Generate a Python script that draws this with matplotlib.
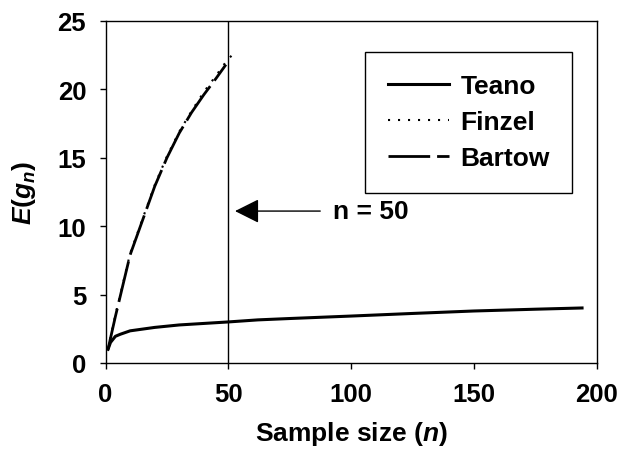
import matplotlib.pyplot as plt

plt.rcParams['font.family'] = ['Liberation Sans', 'DejaVu Sans']
plt.rcParams['font.weight'] = 'bold'
plt.rcParams['mathtext.fontset'] = 'custom'
plt.rcParams['mathtext.it'] = 'Liberation Sans:italic:bold'
plt.rcParams['mathtext.rm'] = 'Liberation Sans:bold'

# values
teano_n = [1, 2, 4, 6, 10, 20, 30, 50, 62, 75, 100, 125, 150, 175, 194]
teano_e = [1.0, 1.5, 1.95, 2.1, 2.35, 2.6, 2.78, 3.0, 3.15, 3.25, 3.43, 3.62, 3.8, 3.93, 4.02]

finzel_n = [1, 2, 4, 6, 8, 10, 13, 16, 20, 25, 30, 35, 40, 45, 49, 52]
finzel_e = [1.0, 1.9, 3.5, 5.0, 6.5, 8.0, 9.5, 11.0, 13.0, 15.1, 16.9, 18.4, 19.8, 21.0, 22.0, 22.6]

bartow_n = [1, 2, 4, 6, 8, 10, 13, 16, 20, 25, 30, 35, 40, 45, 49]
bartow_e = [1.0, 1.8, 3.4, 4.9, 6.4, 7.9, 9.4, 10.9, 12.9, 15.0, 16.8, 18.3, 19.6, 20.8, 21.8]

cutoff_n = 50

fig = plt.figure(figsize=(6.21, 4.52), dpi=100)
ax = fig.add_axes([0.170, 0.1947, 0.791, 0.757])

ax.plot(teano_n, teano_e, color='black', lw=2.2, label='Teano')
ax.plot(finzel_n, finzel_e, color='black', lw=1.5, linestyle=(0, (1, 3.8)), label='Finzel')
ax.plot(bartow_n, bartow_e, color='black', lw=2.0, linestyle=(0, (15, 2.5)), label='Bartow')
ax.axvline(cutoff_n, color='black', lw=1.0)

ax.annotate('', xy=(52.7, 11.1), xytext=(87.4, 11.1),
            arrowprops=dict(arrowstyle='-|>,head_length=1.5,head_width=0.75',
                            color='black', lw=1.0, shrinkA=0, shrinkB=0))
ax.text(92.7, 11.1, 'n = 50', fontsize=19, fontweight='bold', va='center', ha='left')

ax.set_xlim(0, 200)
ax.set_ylim(0, 25)
ax.set_xticks([0, 50, 100, 150, 200])
ax.set_yticks([0, 5, 10, 15, 20, 25])
ax.tick_params(direction='out', length=4, width=1, labelsize=18.5, pad=10)
for lab in ax.get_xticklabels() + ax.get_yticklabels():
    lab.set_fontweight('bold')
for s in ax.spines.values():
    s.set_linewidth(1.0)

ax.set_xlabel(r'Sample size ($n$)', fontsize=19, fontweight='bold', labelpad=9)
ax.set_ylabel(r'$E(g_n)$', fontsize=19, labelpad=14)

leg = ax.legend(loc='upper right', bbox_to_anchor=(0.950, 0.909), borderaxespad=0,
                fancybox=False, edgecolor='black', framealpha=1,
                prop={'weight': 'bold', 'size': 19}, handlelength=2.3,
                borderpad=0.85, labelspacing=0.45, handletextpad=0.45)
leg.get_frame().set_linewidth(1.0)

fig.savefig('out.png', dpi=100)
